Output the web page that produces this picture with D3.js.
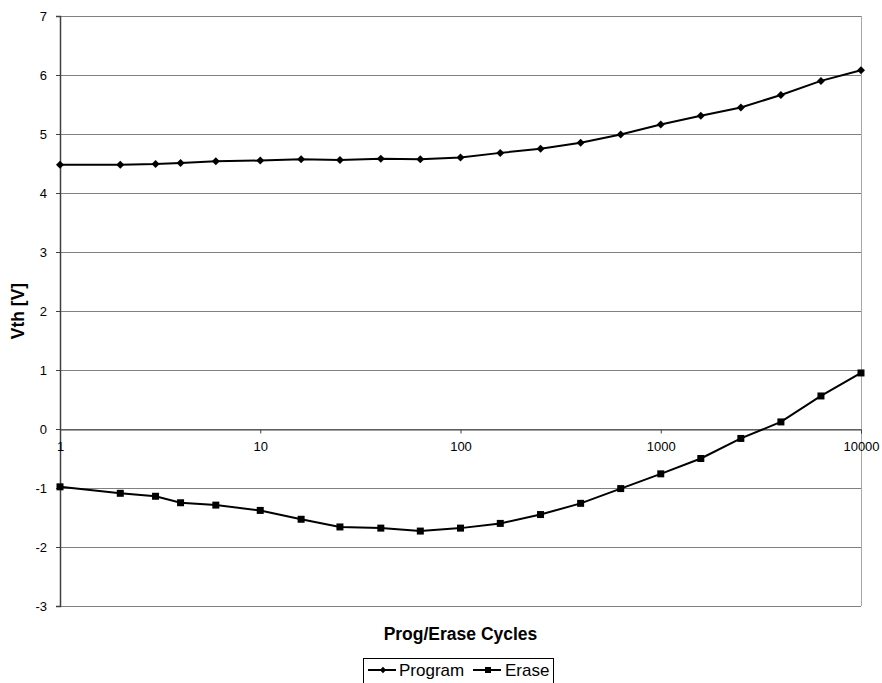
<!DOCTYPE html>
<html>
<head>
<meta charset="utf-8">
<script src="https://cdn.jsdelivr.net/npm/d3@7"></script>
<style>
body { margin: 0; background: #fff; }
text { font-family: "Liberation Sans", Arial, sans-serif; }
</style>
</head>
<body>
<div id="viz"></div>
<script>
var width = 882;
var height = 683;

// data
var cycles = [1, 2, 3, 4, 6, 10, 16, 25, 40, 63, 100, 158, 251, 398, 631, 1000, 1585, 2512, 3981, 6310, 10000];
var program = [4.48, 4.48, 4.49, 4.51, 4.54, 4.55, 4.57, 4.56, 4.58, 4.57, 4.60, 4.68, 4.75, 4.85, 4.99, 5.16, 5.31, 5.45, 5.66, 5.90, 6.08];
var erase = [-0.98, -1.09, -1.14, -1.25, -1.29, -1.38, -1.53, -1.66, -1.68, -1.73, -1.68, -1.60, -1.45, -1.26, -1.01, -0.76, -0.50, -0.16, 0.12, 0.56, 0.95];
var xTicks = [1, 10, 100, 1000, 10000];
var yTicks = [-3, -2, -1, 0, 1, 2, 3, 4, 5, 6, 7];
var seriesNames = ["Program", "Erase"];

var plotLeft = 60, plotRight = 861, plotTop = 16, plotBottom = 606;

var x = d3.scaleLog()
	.domain([1, 10000])
	.range([plotLeft, plotRight]);

var y = d3.scaleLinear()
	.domain([-3, 7])
	.range([plotBottom, plotTop]);

var svg = d3.select("#viz").append("svg")
	.attr("width", width)
	.attr("height", height);

// grid lines
svg.selectAll(".grid")
		.data(yTicks)
	.enter().append("line")
		.attr("class", "grid")
		.attr("x1", plotLeft)
		.attr("x2", plotRight)
		.attr("y1", function(d) { return Math.round(y(d)) + 0.5; })
		.attr("y2", function(d) { return Math.round(y(d)) + 0.5; })
		.attr("stroke", "#808080")
		.attr("stroke-width", 1);

// right border
svg.append("line")
	.attr("x1", plotRight + 0.5).attr("x2", plotRight + 0.5)
	.attr("y1", plotTop).attr("y2", plotBottom)
	.attr("stroke", "#a6a6a6");

var plainFormat = function(d) { return String(d); };

// y axis
var yAxis = d3.axisLeft(y)
	.tickValues(yTicks)
	.tickSize(4)
	.tickPadding(9)
	.tickFormat(plainFormat);

var gy = svg.append("g")
	.attr("transform", "translate(" + plotLeft + ",0)")
	.attr("font-size", 13)
	.call(yAxis);
gy.attr("font-size", 13).attr("font-family", "Liberation Sans, Arial, sans-serif");
gy.select(".domain").attr("stroke", "#404040").attr("stroke-width", 1.5);
gy.selectAll(".tick line").attr("stroke", "#404040");
gy.selectAll("text").attr("fill", "#000");

// x axis at y = 0
var xAxis = d3.axisBottom(x)
	.tickValues(xTicks)
	.tickSize(4)
	.tickPadding(8)
	.tickFormat(plainFormat);

var gx = svg.append("g")
	.attr("transform", "translate(0," + (Math.round(y(0)) + 0.5) + ")")
	.call(xAxis);
gx.attr("font-size", 13).attr("font-family", "Liberation Sans, Arial, sans-serif");
gx.select(".domain").attr("stroke", "#404040").attr("stroke-width", 1);
gx.selectAll(".tick line").attr("stroke", "#404040");
gx.selectAll("text").attr("fill", "#000");

// series
var line = d3.line()
	.x(function(d) { return x(d[0]); })
	.y(function(d) { return y(d[1]); });

var progData = d3.zip(cycles, program);
var eraseData = d3.zip(cycles, erase);

svg.append("path")
	.datum(progData)
	.attr("d", line)
	.attr("fill", "none")
	.attr("stroke", "#000")
	.attr("stroke-width", 2);

svg.append("path")
	.datum(eraseData)
	.attr("d", line)
	.attr("fill", "none")
	.attr("stroke", "#000")
	.attr("stroke-width", 2);

// diamond = square turned 45 degrees, as in the original
var diamond = d3.symbol().type(d3.symbolSquare).size(32);
var square = d3.symbol().type(d3.symbolSquare).size(49);

svg.selectAll(".pmark")
		.data(progData)
	.enter().append("path")
		.attr("class", "pmark")
		.attr("d", diamond)
		.attr("transform", function(d) { return "translate(" + x(d[0]) + "," + y(d[1]) + ") rotate(45)"; })
		.attr("fill", "#000");

svg.selectAll(".emark")
		.data(eraseData)
	.enter().append("path")
		.attr("class", "emark")
		.attr("d", square)
		.attr("transform", function(d) { return "translate(" + x(d[0]) + "," + y(d[1]) + ")"; })
		.attr("fill", "#000");

// axis titles
svg.append("text")
	.attr("x", (plotLeft + plotRight) / 2)
	.attr("y", 640)
	.attr("text-anchor", "middle")
	.attr("font-size", 17.5)
	.attr("font-weight", "bold")
	.text("Prog/Erase Cycles");

svg.append("text")
	.attr("transform", "translate(24," + ((plotTop + plotBottom) / 2) + ") rotate(-90)")
	.attr("text-anchor", "middle")
	.attr("font-size", 17.5)
	.attr("font-weight", "bold")
	.text("Vth [V]");

// legend
var legend = svg.append("g");
legend.append("rect")
	.attr("x", 363.5)
	.attr("y", 658.5)
	.attr("width", 190)
	.attr("height", 30)
	.attr("fill", "#fff")
	.attr("stroke", "#000");

var legendX = [368, 473];
var legendText = [399, 505];
var legendSymbols = [
	d3.symbol().type(d3.symbolSquare).size(20),
	d3.symbol().type(d3.symbolSquare).size(36)
];
var legendRotate = [45, 0];

seriesNames.forEach(function(name, i) {
	legend.append("line")
		.attr("x1", legendX[i]).attr("x2", legendX[i] + 28)
		.attr("y1", 670).attr("y2", 670)
		.attr("stroke", "#000")
		.attr("stroke-width", 2);
	legend.append("path")
		.attr("d", legendSymbols[i])
		.attr("transform", "translate(" + (legendX[i] + 15) + ",670) rotate(" + legendRotate[i] + ")")
		.attr("fill", "#000");
	legend.append("text")
		.attr("x", legendText[i])
		.attr("y", 676)
		.attr("font-size", 17)
		.text(name);
});
</script>
</body>
</html>
